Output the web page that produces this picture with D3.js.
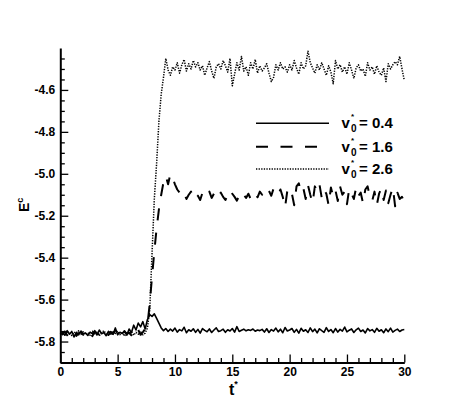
<!DOCTYPE html>
<html>
<head>
<meta charset="utf-8">
<script src="https://cdn.jsdelivr.net/npm/d3@7"></script>
<style>
  html, body { margin: 0; padding: 0; background: #fff; }
  svg { display: block; }
  text { font-family: "Liberation Sans", Arial, Helvetica, sans-serif; font-weight: bold; fill: #000; }
</style>
</head>
<body>
<svg id="chart" width="460" height="409"></svg>
<script>
// ---- data ----
const tStep = 0.2; // sample spacing in t*
const seriesLabels = ["0.4", "1.6", "2.6"];
const xTicks = [0, 5, 10, 15, 20, 25, 30];
const yTicks = [-5.8, -5.6, -5.4, -5.2, -5.0, -4.8, -4.6];

const e04 = [
  -5.762,-5.758,-5.770,-5.748,-5.765,-5.752,-5.778,-5.756,-5.768,-5.750,
  -5.764,-5.759,-5.771,-5.755,-5.762,-5.748,-5.769,-5.745,-5.763,-5.757,
  -5.772,-5.751,-5.760,-5.766,-5.735,-5.768,-5.756,-5.762,-5.749,-5.770,
  -5.740,-5.758,-5.722,-5.745,-5.712,-5.730,-5.705,-5.740,-5.695,-5.672,
  -5.680,-5.668,-5.690,-5.712,-5.735,-5.748,-5.738,-5.752,-5.741,-5.750,
  -5.736,-5.755,-5.743,-5.749,-5.732,-5.758,-5.744,-5.751,-5.739,-5.756,
  -5.742,-5.760,-5.738,-5.747,-5.753,-5.740,-5.757,-5.745,-5.735,-5.752,
  -5.748,-5.741,-5.756,-5.744,-5.750,-5.738,-5.755,-5.729,-5.752,-5.746,
  -5.741,-5.749,-5.744,-5.747,-5.740,-5.751,-5.745,-5.748,-5.742,-5.755,
  -5.739,-5.757,-5.743,-5.750,-5.736,-5.754,-5.741,-5.758,-5.733,-5.750,
  -5.745,-5.738,-5.756,-5.742,-5.760,-5.737,-5.751,-5.744,-5.757,-5.735,
  -5.753,-5.741,-5.759,-5.739,-5.748,-5.756,-5.734,-5.752,-5.743,-5.758,
  -5.738,-5.755,-5.742,-5.750,-5.731,-5.754,-5.746,-5.740,-5.757,-5.744,
  -5.736,-5.752,-5.745,-5.759,-5.738,-5.749,-5.743,-5.756,-5.737,-5.751,
  -5.744,-5.758,-5.740,-5.753,-5.736,-5.755,-5.747,-5.741,-5.752,-5.745,-5.743
];

const e16 = [
  -5.758,-5.766,-5.752,-5.770,-5.756,-5.762,-5.749,-5.773,-5.760,-5.755,
  -5.768,-5.751,-5.763,-5.758,-5.774,-5.753,-5.761,-5.767,-5.750,-5.764,
  -5.757,-5.769,-5.754,-5.762,-5.748,-5.771,-5.759,-5.765,-5.752,-5.763,
  -5.758,-5.770,-5.752,-5.766,-5.745,-5.768,-5.755,-5.740,-5.720,-5.620,
  -5.490,-5.370,-5.260,-5.170,-5.100,-5.040,-5.010,-5.050,-5.000,-5.020,
  -5.050,-5.075,-5.090,-5.110,-5.095,-5.120,-5.100,-5.085,-5.115,-5.095,
  -5.105,-5.125,-5.090,-5.110,-5.100,-5.085,-5.115,-5.095,-5.120,-5.105,
  -5.090,-5.110,-5.125,-5.100,-5.118,-5.095,-5.110,-5.128,-5.105,-5.120,
  -5.100,-5.115,-5.095,-5.120,-5.108,-5.090,-5.112,-5.085,-5.100,-5.078,
  -5.095,-5.082,-5.105,-5.070,-5.090,-5.100,-5.075,-5.110,-5.160,-5.080,
  -5.065,-5.095,-5.150,-5.060,-5.045,-5.090,-5.070,-5.120,-5.055,-5.100,
  -5.140,-5.060,-5.085,-5.050,-5.115,-5.075,-5.095,-5.150,-5.065,-5.110,
  -5.080,-5.130,-5.060,-5.100,-5.085,-5.145,-5.070,-5.095,-5.120,-5.065,
  -5.105,-5.090,-5.140,-5.075,-5.060,-5.110,-5.130,-5.085,-5.150,-5.095,
  -5.070,-5.125,-5.080,-5.140,-5.100,-5.065,-5.155,-5.090,-5.120,-5.110,-5.135
];

const e26 = [
  -5.764,-5.756,-5.768,-5.752,-5.760,-5.771,-5.754,-5.762,-5.749,-5.766,
  -5.753,-5.767,-5.758,-5.770,-5.751,-5.763,-5.756,-5.772,-5.759,-5.748,
  -5.765,-5.757,-5.769,-5.753,-5.761,-5.750,-5.767,-5.758,-5.774,-5.755,
  -5.762,-5.752,-5.770,-5.756,-5.765,-5.750,-5.768,-5.760,-5.735,-5.650,
  -5.380,-5.120,-4.950,-4.750,-4.620,-4.540,-4.450,-4.505,-4.530,-4.490,
  -4.505,-4.470,-4.520,-4.480,-4.455,-4.510,-4.475,-4.500,-4.460,-4.490,
  -4.470,-4.505,-4.485,-4.530,-4.495,-4.465,-4.510,-4.545,-4.490,-4.475,
  -4.500,-4.460,-4.485,-4.515,-4.450,-4.580,-4.525,-4.470,-4.505,-4.440,
  -4.510,-4.490,-4.530,-4.470,-4.500,-4.455,-4.520,-4.485,-4.510,-4.495,
  -4.475,-4.520,-4.560,-4.540,-4.480,-4.505,-4.470,-4.500,-4.490,-4.515,
  -4.480,-4.505,-4.460,-4.495,-4.525,-4.470,-4.500,-4.485,-4.415,-4.470,
  -4.495,-4.520,-4.480,-4.505,-4.470,-4.500,-4.530,-4.485,-4.515,-4.570,
  -4.460,-4.500,-4.480,-4.515,-4.490,-4.525,-4.470,-4.505,-4.545,-4.495,
  -4.480,-4.510,-4.500,-4.535,-4.470,-4.505,-4.490,-4.525,-4.485,-4.515,
  -4.530,-4.495,-4.560,-4.475,-4.500,-4.480,-4.465,-4.480,-4.440,-4.500,-4.555
];

// ---- chart ----
const svg = d3.select("#chart");
const x = d3.scaleLinear().domain([0, 30]).range([60.3, 404.3]);
const y = d3.scaleLinear().domain([-5.9, -4.4]).range([362.5, 48]);

const series = [
  { label: seriesLabels[0], values: e04, dash: null, width: 1.6 },
  { label: seriesLabels[1], values: e16, dash: "12,12.5", width: 2 },
  { label: seriesLabels[2], values: e26, dash: "1.3,1.3", width: 1.5 }
];

const line = d3.line()
  .x((d, i) => x(i * tStep))
  .y(d => y(d));

// draw in reverse so solid is on top
series.slice().reverse().forEach(s => {
  svg.append("path")
    .datum(s.values)
    .attr("d", line)
    .attr("fill", "none")
    .attr("stroke", "#000")
    .attr("stroke-width", s.width)
    .attr("stroke-linejoin", "round")
    .attr("stroke-dasharray", s.dash);
});

// minor ticks
const xMinor = d3.range(0, 31, 1).filter(v => v % 5 !== 0);
const yMinor = d3.range(-5.9, -4.39, 0.05).map(v => +v.toFixed(2))
  .filter(v => Math.abs(Math.round(v * 5) - v * 5) > 1e-6);

svg.append("g").attr("transform", `translate(0,${y.range()[0]})`)
  .call(d3.axisBottom(x).tickValues(xTicks).tickSizeInner(-8).tickSizeOuter(0).tickPadding(4.5)
    .tickFormat(d => String(d)));
svg.append("g").attr("transform", `translate(0,${y.range()[0]})`)
  .call(d3.axisBottom(x).tickValues(xMinor).tickSizeInner(-4.5).tickSizeOuter(0).tickFormat(""))
  .call(g => g.select(".domain").remove());

svg.append("g").attr("transform", `translate(${x.range()[0]},0)`)
  .call(d3.axisLeft(y).tickValues(yTicks).tickSizeInner(-8).tickSizeOuter(0).tickPadding(5)
    .tickFormat(d => d.toFixed(1)));
svg.append("g").attr("transform", `translate(${x.range()[0]},0)`)
  .call(d3.axisLeft(y).tickValues(yMinor).tickSizeInner(-4.5).tickSizeOuter(0).tickFormat(""))
  .call(g => g.select(".domain").remove());

svg.selectAll(".domain").attr("stroke", "#000").attr("stroke-width", 2);
svg.selectAll(".tick line").attr("stroke", "#000").attr("stroke-width", 1.3);
svg.selectAll(".tick text")
  .attr("font-family", '"Liberation Sans", Arial, sans-serif')
  .attr("font-weight", "bold")
  .attr("font-size", 12)
  .attr("fill", "#000");

// axis titles
const xt = svg.append("text").attr("x", 229).attr("y", 395).attr("font-size", 16);
xt.append("tspan").text("t");
xt.append("tspan").attr("font-size", 9).attr("dy", -8).text("*");

const yt = svg.append("text")
  .attr("transform", "translate(29,212) rotate(-90)")
  .attr("font-size", 14);
yt.append("tspan").text("E");
yt.append("tspan").attr("font-size", 9).attr("dy", -6).text("c");

// legend
const legY = [123.3, 146.7, 169];
series.forEach((s, i) => {
  svg.append("line")
    .attr("x1", 256).attr("x2", 329)
    .attr("y1", legY[i]).attr("y2", legY[i])
    .attr("stroke", "#000")
    .attr("stroke-width", s.width)
    .attr("stroke-dasharray", s.dash);
  const t = svg.append("text").attr("x", 341.5).attr("y", legY[i] + 5).attr("font-size", 15);
  t.append("tspan").text("v");
  t.append("tspan").attr("font-size", 8).attr("x", 351).attr("dy", -9).text("*");
  t.append("tspan").attr("font-size", 10).attr("x", 351).attr("dy", 13).text("0");
  t.append("tspan").attr("x", 359).attr("dy", -4).text("= " + s.label);
});
</script>
</body>
</html>
